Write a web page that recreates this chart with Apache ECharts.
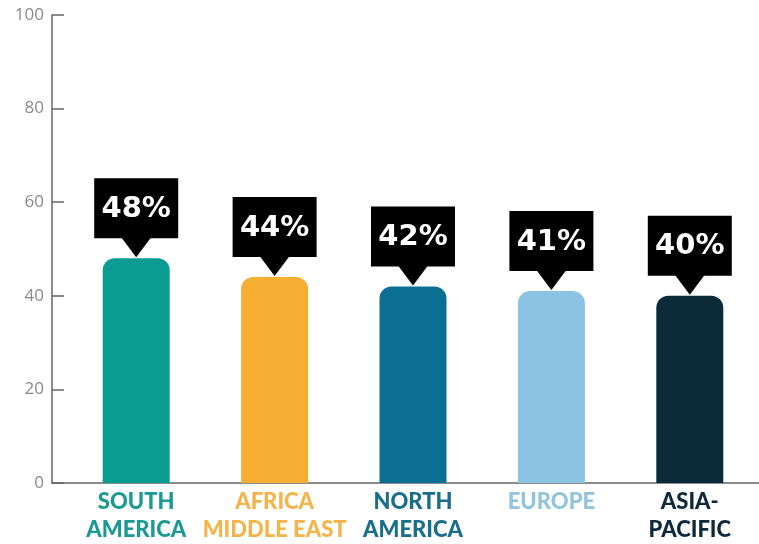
<!DOCTYPE html>
<html>
<head>
<meta charset="utf-8">
<script src="https://cdn.jsdelivr.net/npm/echarts@6/dist/echarts.min.js"></script>
<style>
  html, body { margin: 0; padding: 0; background: #fff; }
  #chart { width: 759px; height: 544px; }
</style>
</head>
<body>
<div id="chart"></div>
<script>
// Regions and their shares (percent)
const regions = ['SOUTH\nAMERICA', 'AFRICA\nMIDDLE EAST', 'NORTH\nAMERICA', 'EUROPE', 'ASIA-\nPACIFIC'];
const shares = [48, 44, 42, 41, 40];
const regionColors = ['#0a9b92', '#f6ae33', '#0b6e93', '#8cc3e3', '#0c2b3a'];
const labelColors = ['#1a9a92', '#f5b449', '#1b6d8c', '#94c3de', '#10293a'];
const yTicks = { min: 0, max: 100, step: 20 };

const chart = echarts.init(document.getElementById('chart'), null, { renderer: 'canvas' });

// Callout: black box with white percentage and a pointer down to the bar top
function renderCallout(params, api) {
  const v = api.value(1);
  const p = api.coord([api.value(0), v]);
  const x = p[0], y = p[1] - 1;
  const triH = 19, triW = 30, boxW = 84, boxH = 60;
  return {
    type: 'group',
    children: [
      { type: 'polygon', shape: { points: [[x - triW / 2, y - triH - 1], [x + triW / 2, y - triH - 1], [x, y]] }, style: { fill: '#000' } },
      { type: 'rect', shape: { x: x - boxW / 2, y: y - triH - boxH, width: boxW, height: boxH }, style: { fill: '#000' } },
      { type: 'text', style: { x: x, y: y - triH - boxH / 2 + 1, text: v + '%', fill: '#fff', align: 'center', verticalAlign: 'middle', font: 'bold 29px "DejaVu Sans"' } }
    ]
  };
}

chart.setOption({
  animation: false,
  backgroundColor: '#fff',
  grid: [
    { left: 67, right: 0, top: 15, bottom: 61 },
    { left: 52, right: 0, top: 15, bottom: 61 }
  ],
  xAxis: [
    {
      type: 'category', gridIndex: 0, data: regions,
      axisLine: { show: false }, axisTick: { show: false },
      axisLabel: {
        interval: 0, margin: 5, verticalAlign: 'top',
        fontFamily: 'Lato', fontWeight: 900, fontSize: 22, lineHeight: 28,
        color: (val, idx) => labelColors[idx]
      }
    },
    {
      type: 'value', gridIndex: 1, min: 0, max: 1,
      axisLine: { show: true, lineStyle: { color: '#666', width: 1.5 } },
      axisTick: { show: false }, axisLabel: { show: false }, splitLine: { show: false }
    }
  ],
  yAxis: [
    {
      type: 'value', gridIndex: 0, min: yTicks.min, max: yTicks.max, interval: yTicks.step,
      offset: 15,
      axisLine: { show: true, lineStyle: { color: '#666', width: 1.5 } },
      axisTick: { show: true, inside: true, length: 12, lineStyle: { color: '#666', width: 1.5 } },
      axisLabel: { color: '#8a8a8a', fontFamily: 'Open Sans', fontSize: 17, margin: 8 },
      splitLine: { show: false }
    },
    { type: 'value', gridIndex: 1, show: false, min: 0, max: 1 }
  ],
  series: [
    {
      type: 'bar', xAxisIndex: 0, yAxisIndex: 0, barWidth: 67,
      data: shares.map((v, i) => ({ value: v, itemStyle: { color: regionColors[i] } })),
      itemStyle: { borderRadius: [12, 12, 0, 0] }
    },
    {
      type: 'custom', xAxisIndex: 0, yAxisIndex: 0,
      data: shares.map((v, i) => [i, v]),
      encode: { x: 0, y: 1 },
      renderItem: renderCallout,
      z: 5
    }
  ]
});
</script>
</body>
</html>
